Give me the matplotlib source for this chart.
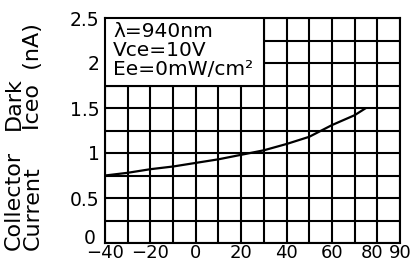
import matplotlib
matplotlib.use('Agg')
import matplotlib.pyplot as plt
import matplotlib.transforms as mtransforms
from matplotlib.patches import Rectangle

# Dark collector current vs ambient temperature
temp = [-40, -30, -20, -10, 0, 10, 20, 30, 40, 50, 60, 70, 75]
iceo = [0.75, 0.78, 0.82, 0.85, 0.89, 0.93, 0.98, 1.03, 1.10, 1.18, 1.31, 1.42, 1.50]

xgrid = list(range(-40, 91, 10))
xlabels = ['\u221240', '', '\u221220', '', '0', '', '20', '', '40', '', '60', '', '80', '90']
ygrid = [0, 0.25, 0.5, 0.75, 1, 1.25, 1.5, 1.75, 2, 2.25, 2.5]
ylabels = ['0', '', '0.5', '', '1', '', '1.5', '', '2', '', '2.5']
cond_lines = ['\u03bb=940nm', 'Vce=10V', 'Ee=0mW/cm\u00b2']

plt.rcParams['font.family'] = 'DejaVu Sans'

fig = plt.figure(figsize=(4.19, 2.67), dpi=100)
ax = fig.add_axes([105/419, 24/267, 295/419, 225/267])

ax.plot(temp, iceo, color='black', lw=1.6, zorder=4, solid_capstyle='butt')

ax.set_xlim(-40, 90)
ax.set_ylim(0, 2.5)
ax.set_xticks(xgrid)
ax.set_xticklabels(xlabels)
ax.set_yticks(ygrid)
ax.set_yticklabels(ylabels)
ax.tick_params(length=0)
ax.tick_params(axis='x', pad=1, labelsize=13)
ax.tick_params(axis='y', pad=4, labelsize=13.5)
ax.grid(True, color='black', lw=1.5)
ax.set_axisbelow(True)
for s in ax.spines.values():
    s.set_linewidth(1.5)

# nudge crowded labels like the original: "80" left, y "0" up a bit
lab80 = ax.get_xticklabels()[12]
lab80.set_transform(lab80.get_transform() + mtransforms.ScaledTranslation(-5/100, 0, fig.dpi_scale_trans))
lab0 = ax.get_yticklabels()[0]
lab0.set_transform(lab0.get_transform() + mtransforms.ScaledTranslation(-4/100, 6/100, fig.dpi_scale_trans))

# condition box (white, hides the grid in the upper-left cells)
ax.add_patch(Rectangle((-40, 1.75), 70, 0.75, facecolor='white',
                       edgecolor='black', lw=1.5, zorder=3))
for i, t in enumerate(cond_lines):
    ax.text(-36.5, 2.355 - i * 0.215, t, fontsize=14.5, va='center', ha='left', zorder=5)

# two-line y label
fig.text(4/419, 1 - 250/267, 'Collector', rotation=90, fontsize=16, ha='left', va='bottom')
fig.text(23/419, 1 - 250/267, 'Current', rotation=90, fontsize=16, ha='left', va='bottom')
fig.text(4/419, 1 - 130/267, 'Dark', rotation=90, fontsize=16, ha='left', va='bottom')
fig.text(23/419, 1 - 130/267, 'Iceo  (nA)', rotation=90, fontsize=16, ha='left', va='bottom')

fig.savefig('out.png', dpi=100)
